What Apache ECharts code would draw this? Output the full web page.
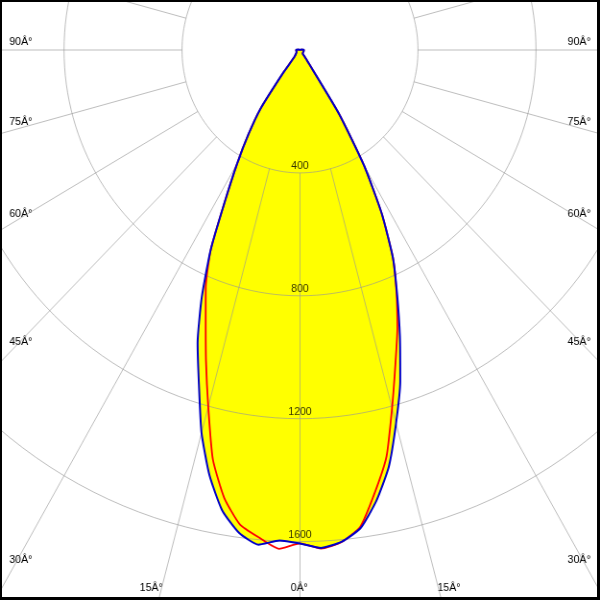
<!DOCTYPE html>
<html>
<head>
<meta charset="utf-8">
<script src="https://cdn.jsdelivr.net/npm/echarts@6/dist/echarts.min.js"></script>
<style>
  html, body { margin: 0; padding: 0; background: #fff; }
  #wrap { position: relative; width: 600px; height: 600px; overflow: hidden; }
  #chart { position: absolute; left: 0; top: 0; width: 625px; height: 600px; transform: scaleX(0.96); transform-origin: 0 0; }
  #frame { position: absolute; left: 0; top: 0; width: 600px; height: 600px; box-sizing: border-box;
           border-style: solid; border-color: #000; border-width: 2px 3px 3px 2px; pointer-events: none; }
</style>
</head>
<body>
<div id="wrap">
  <div id="chart"></div>
  <div id="frame"></div>
</div>
<script>
// Gamma angles (degrees from nadir)
const angles    = [0, 2.5, 5, 7.5, 10, 12.5, 15, 17.5, 20, 22.5, 25, 27.5, 30, 32.5, 35, 37.5, 40, 50, 60, 75, 90, 105, 120, 180];
// Blue curve (one C-plane), right and left halves, cd
const blueRight = [1606, 1622, 1607, 1570, 1490, 1390, 1258, 1130, 990, 860, 745, 600, 435, 245, 40, 15, 13, 13, 13, 13, 13, 5, 0, 0];
const blueLeft  = [1606, 1598, 1616, 1585, 1521, 1418, 1290, 1140, 1015, 870, 715, 545, 425, 325, 235, 95, 30, 13, 13, 13, 13, 5, 0, 0];
// Red curve (other C-plane)
const redRight  = [1606, 1624, 1608, 1565, 1462, 1355, 1206, 1075, 965, 855, 745, 600, 435, 245, 40, 15, 13, 13, 13, 13, 13, 5, 0, 0];
const redLeft   = [1606, 1625, 1593, 1558, 1480, 1365, 1202, 1060, 935, 835, 715, 545, 425, 325, 235, 95, 30, 13, 13, 13, 13, 5, 0, 0];
// Grid
const ringValues = [400, 800, 1200, 1600];
const spokeStep = 15;
const angleTickLabels = ['90\u00C2\u00B0', '75\u00C2\u00B0', '60\u00C2\u00B0', '45\u00C2\u00B0', '30\u00C2\u00B0', '15\u00C2\u00B0', '0\u00C2\u00B0'];

function curve(left, right) {
  const pts = [];
  for (let i = angles.length - 1; i >= 1; i--) pts.push([left[i], -angles[i]]);
  for (let i = 0; i < angles.length; i++) pts.push([right[i], angles[i]]);
  return pts;
}

const SMOOTH = 0.18;
const gridColor = 'rgba(150,150,150,0.62)';
const series = [];

// Yellow fill (blue curve area)
series.push({
  type: 'line', coordinateSystem: 'polar', data: curve(blueLeft, blueRight),
  symbol: 'none', smooth: SMOOTH, lineStyle: { width: 0, opacity: 0 },
  areaStyle: { color: '#ffff00', opacity: 1 }, z: 1, silent: true, animation: false
});

// Rings
ringValues.forEach(function (r) {
  const d = [];
  for (let a = -180; a <= 180; a += 2) d.push([r, a]);
  series.push({ type: 'line', coordinateSystem: 'polar', data: d, symbol: 'none',
    lineStyle: { color: gridColor, width: 1 }, z: 2, silent: true, animation: false });
});

// Spokes (from first ring outwards)
for (let a = -180; a < 180; a += spokeStep) {
  series.push({ type: 'line', coordinateSystem: 'polar', data: [[ringValues[0], a], [2400, a]], symbol: 'none',
    lineStyle: { color: gridColor, width: 1 }, z: 2, silent: true, animation: false });
}

// Red curve
series.push({ type: 'line', coordinateSystem: 'polar', data: curve(redLeft, redRight), symbol: 'none', smooth: SMOOTH,
  lineStyle: { color: '#ff0000', width: 1.8 }, z: 3, animation: false });
// Blue curve
series.push({ type: 'line', coordinateSystem: 'polar', data: curve(blueLeft, blueRight), symbol: 'none', smooth: SMOOTH,
  lineStyle: { color: '#0000c8', width: 2 }, z: 4, animation: false });

// Ring value labels
series.push({
  type: 'scatter', coordinateSystem: 'polar', symbolSize: 0, z: 5, animation: false, silent: true,
  data: ringValues.map(function (r) { return [r, 0]; }),
  label: { show: true, position: 'inside', offset: [0, -6.5], color: '#000',
    fontFamily: 'Liberation Sans', fontSize: 11,
    formatter: function (p) { return String(p.value[0]); } }
});

const tf = { fontFamily: 'Liberation Sans', fontSize: 11, fill: '#000', verticalAlign: 'middle' };
const sideY = [42, 122, 214, 341.5, 560];
const graphic = [];
for (let i = 0; i < 5; i++) {
  graphic.push({ type: 'text', x: 9.7, y: sideY[i], style: Object.assign({ text: angleTickLabels[i], align: 'left' }, tf) });
  graphic.push({ type: 'text', x: 615.3, y: sideY[i], style: Object.assign({ text: angleTickLabels[i], align: 'right' }, tf) });
}
graphic.push({ type: 'text', x: 157.6, y: 588, style: Object.assign({ text: angleTickLabels[5], align: 'center' }, tf) });
graphic.push({ type: 'text', x: 311.7, y: 588, style: Object.assign({ text: angleTickLabels[6], align: 'center' }, tf) });
graphic.push({ type: 'text', x: 467.7, y: 588, style: Object.assign({ text: angleTickLabels[5], align: 'center' }, tf) });

const chart = echarts.init(document.getElementById('chart'), null, { renderer: 'canvas' });
chart.setOption({
  animation: false,
  backgroundColor: '#fff',
  polar: { center: [312.5, 50], radius: 737.4 },
  angleAxis: { type: 'value', min: -180, max: 180, startAngle: 90, clockwise: false,
    axisLine: { show: false }, axisTick: { show: false }, axisLabel: { show: false }, splitLine: { show: false } },
  radiusAxis: { type: 'value', min: 0, max: 2400,
    axisLine: { show: false }, axisTick: { show: false }, axisLabel: { show: false }, splitLine: { show: false } },
  graphic: graphic,
  series: series
});
</script>
</body>
</html>
